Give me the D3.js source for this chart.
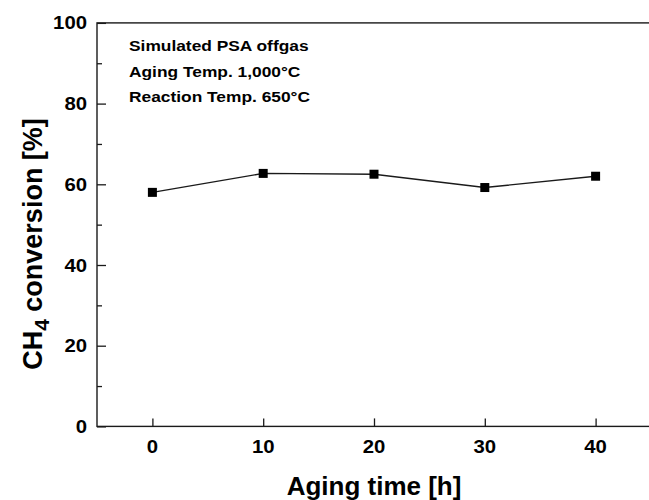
<!DOCTYPE html>
<html><head><meta charset="utf-8">
<script src="https://cdn.jsdelivr.net/npm/d3@7"></script>
<style>body{margin:0;background:#fff}svg{display:block}text{font-family:Arial,"Liberation Sans",sans-serif;font-weight:bold;fill:#000}</style>
</head><body><svg id="c" width="649" height="500"></svg>
<script>
const agingTime = [0, 10, 20, 30, 40];
const ch4Conversion = [58.0, 62.7, 62.5, 59.2, 62.0];
const xTicks = [0, 10, 20, 30, 40];
const yTicks = [0, 20, 40, 60, 80, 100];
const yMinorTicks = [10, 30, 50, 70, 90];
const notes = ["Simulated PSA offgas", "Aging Temp. 1,000°C", "Reaction Temp. 650°C"];

const svg = d3.select("#c");
const L = 97, R = 651, T = 22.9, B = 426.4;
const x = d3.scaleLinear().domain([-5, 45]).range([L, R]);
const y = d3.scaleLinear().domain([0, 100]).range([B, T]);
const ink = "#1a1a1a";
const SX = 1.13;

function label(px, py, str, size, anchor, sx) {
  return svg.append("text")
    .attr("transform", `translate(${px},${py}) scale(${sx},1)`)
    .attr("text-anchor", anchor)
    .style("font-size", size + "px")
    .text(str);
}

// frame
svg.append("rect").attr("x", L).attr("y", T).attr("width", R - L).attr("height", B - T)
  .attr("fill", "none").attr("stroke", ink).attr("stroke-width", 1.4);

// x ticks (inward)
const xa = svg.append("g").attr("transform", `translate(0,${B})`)
  .call(d3.axisBottom(x).tickValues(xTicks).tickSizeInner(-8).tickSizeOuter(0).tickFormat(""));
xa.select(".domain").remove();
xa.selectAll("line").attr("stroke", ink).attr("stroke-width", 1.3);

const ya = svg.append("g").attr("transform", `translate(${L},0)`)
  .call(d3.axisLeft(y).tickValues(yTicks).tickSizeInner(-9).tickSizeOuter(0).tickFormat(""));
ya.select(".domain").remove();
ya.selectAll("line").attr("stroke", ink).attr("stroke-width", 1.3);
const ym = svg.append("g").attr("transform", `translate(${L},0)`)
  .call(d3.axisLeft(y).tickValues(yMinorTicks).tickSizeInner(-5).tickSizeOuter(0).tickFormat(""));
ym.select(".domain").remove();
ym.selectAll("line").attr("stroke", ink).attr("stroke-width", 1.3);

// tick labels
xTicks.forEach(v => label(x(v), 453, d3.format("d")(v), 18, "middle", SX));
yTicks.forEach(v => label(87, y(v) + 6.5, d3.format("d")(v), 18, "end", SX));

// axis titles
label((L + R) / 2, 495, "Aging time [h]", 26, "middle", 1.0);
const yt = svg.append("text")
  .attr("transform", `translate(42,244) rotate(-90)`)
  .attr("text-anchor", "middle").style("font-size", "27px");
yt.append("tspan").text("CH");
yt.append("tspan").attr("dy", 7).style("font-size", "21px").text("4");
yt.append("tspan").attr("dy", -7).text(" conversion [%]");

// notes
notes.forEach((s, i) => label(129, 51 + i * 25.5, s, 15.5, "start", 1.12));

// line + markers
const line = d3.line().x((d, i) => x(agingTime[i])).y(d => y(d));
svg.append("path").datum(ch4Conversion).attr("d", line)
  .attr("fill", "none").attr("stroke", ink).attr("stroke-width", 1.4);
svg.selectAll("rect.m").data(ch4Conversion).enter().append("rect").attr("class", "m")
  .attr("x", (d, i) => x(agingTime[i]) - 4.5).attr("y", d => y(d) - 4.5)
  .attr("width", 9).attr("height", 9).attr("fill", "#000");
</script></body></html>
